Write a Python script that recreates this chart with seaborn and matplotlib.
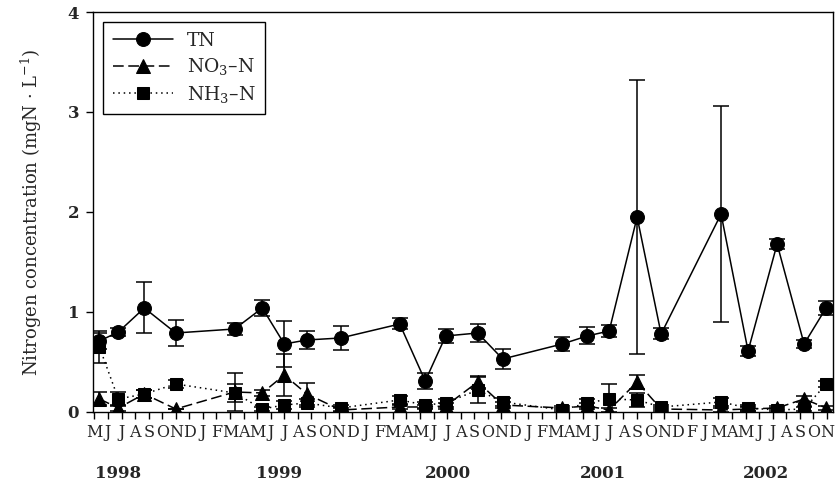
import matplotlib
matplotlib.use("Agg")
import matplotlib.pyplot as plt
import matplotlib.transforms as mtransforms
import seaborn as sns
import pandas as pd

sns.set_theme(style="ticks")
plt.rcParams['font.family'] = ['DejaVu Serif']
plt.rcParams['mathtext.fontset'] = 'dejavuserif'

# sampling dates, in months since May 1998 (tick 0 = May 1998)
months = [0.37, 1.77, 3.68, 6.0, 10.34, 12.38, 14.0, 15.66, 18.16, 22.51, 24.39, 25.9,
          28.26, 30.1, 34.49, 36.33, 37.95, 40.01, 41.78, 46.2, 48.19, 50.33, 52.32, 53.94]

tn = [0.71, 0.80, 1.04, 0.79, 0.83, 1.04, 0.68, 0.72, 0.74, 0.88, 0.31, 0.76,
      0.79, 0.53, 0.68, 0.76, 0.81, 1.95, 0.78, 1.98, 0.61, 1.68, 0.68, 1.04]
tn_err = [0.08, 0.04, 0.255, 0.13, 0.06, 0.08, 0.23, 0.09, 0.12, 0.055, 0.08, 0.07,
          0.09, 0.10, 0.07, 0.085, 0.06, 1.37, 0.055, 1.08, 0.05, 0.05, 0.04, 0.07]

no3 = [0.13, 0.04, 0.18, 0.03, 0.20, 0.19, 0.37, 0.18, 0.02, 0.05, 0.05, 0.06,
       0.30, 0.07, 0.04, 0.06, 0.02, 0.30, 0.03, 0.02, 0.03, 0.04, 0.13, 0.04]
no3_err = [0.065, 0.03, 0.04, 0.0, 0.19, 0.03, 0.21, 0.11, 0.02, 0.02, 0.02, 0.03,
           0.06, 0.03, 0.02, 0.03, 0.02, 0.07, 0.02, 0.02, 0.02, 0.02, 0.03, 0.02]

nh3 = [0.65, 0.13, 0.18, 0.28, 0.19, 0.03, 0.07, 0.09, 0.04, 0.12, 0.07, 0.09,
       0.22, 0.10, 0.02, 0.09, 0.13, 0.12, 0.05, 0.10, 0.04, 0.02, 0.03, 0.28]
nh3_err = [0.16, 0.07, 0.04, 0.04, 0.09, 0.02, 0.04, 0.04, 0.03, 0.04, 0.03, 0.04,
           0.13, 0.04, 0.02, 0.04, 0.15, 0.07, 0.02, 0.04, 0.03, 0.02, 0.02, 0.03]

# month tick labels as printed (May 1998 .. Nov 2002)
month_labels = list("MJJASOND" + "JFMAMJJASOND" * 3 + "FJMAMJJASON")
years = ["1998", "1999", "2000", "2001", "2002"]
year_pos = [1.75, 13.6, 26.1, 37.5, 49.5]

df = pd.DataFrame({"month": months, "TN": tn, "NO3": no3, "NH3": nh3})

fig = plt.figure(figsize=(8.35, 4.86), dpi=100)
ax = fig.add_axes([0.1114, 0.1523, 0.8862, 0.8230])

# error bars first so markers sit on top
for y, e in [(tn, tn_err), (no3, no3_err), (nh3, nh3_err)]:
    ax.errorbar(months, y, yerr=e, fmt='none', ecolor='black', elinewidth=1.1,
                capsize=5.5, capthick=1.1, zorder=2)

sns.lineplot(data=df, x="month", y="TN", ax=ax, color="black", marker="o", markersize=10,
             markeredgecolor="black", linewidth=1.1, label="TN", errorbar=None, sort=False, zorder=3)
sns.lineplot(data=df, x="month", y="NO3", ax=ax, color="black", marker="^", markersize=10,
             markeredgecolor="black", linewidth=1.1, linestyle=(0, (7, 3)),
             label="NO$_3$–N", errorbar=None, sort=False, zorder=3)
sns.lineplot(data=df, x="month", y="NH3", ax=ax, color="black", marker="s", markersize=8,
             markeredgecolor="black", linewidth=1.1, linestyle=(0, (1, 2.5)),
             label="NH$_3$–N", errorbar=None, sort=False, zorder=3)

ax.set_xlim(-0.1, 54.45)
ax.set_ylim(0, 4)
ax.set_yticks([0, 1, 2, 3, 4])
ax.set_yticklabels(["0", "1", "2", "3", "4"], fontsize=12, fontweight="bold")
ax.set_xticks(range(len(month_labels)))
ax.set_xticklabels(month_labels, fontsize=11.5)
ax.tick_params(axis="both", direction="out", length=5, width=1, color="black", pad=5)
ax.tick_params(axis="x", pad=4)
ax.set_xlabel("")
ax.set_ylabel("Nitrogen concentration (mgN · L$^{-1}$)", fontsize=13, labelpad=17)

for side in ["left", "right", "top", "bottom"]:
    ax.spines[side].set_visible(True)
    ax.spines[side].set_color("black")
    ax.spines[side].set_linewidth(1)

trans = mtransforms.blended_transform_factory(ax.transData, ax.transAxes)
for yr, pos in zip(years, year_pos):
    ax.text(pos, -0.155, yr, transform=trans, ha="center", va="center",
            fontsize=12, fontweight="bold")

leg = ax.legend(loc="upper left", fontsize=13.5, handlelength=3.2, handletextpad=0.75,
                borderaxespad=0.55, borderpad=0.5, fancybox=False, framealpha=1,
                edgecolor="black", labelspacing=0.35)
leg.get_frame().set_linewidth(1)

fig.savefig("out.png", dpi=100)
